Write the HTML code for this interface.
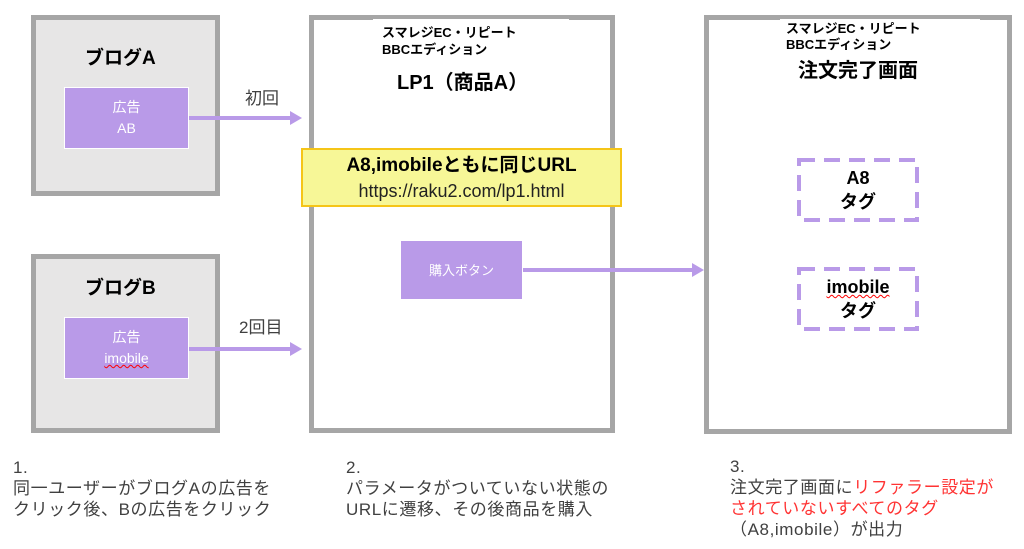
<!DOCTYPE html>
<html><head><meta charset="utf-8"><style>
body{margin:0;width:1024px;height:549px;background:#fff;position:relative;overflow:hidden;font-family:"Liberation Sans","Noto Sans CJK JP",sans-serif}
div,svg{position:absolute;box-sizing:border-box}
.box{border:5px solid #a6a6a6}
.ad{background:#b99ae8;border:1px solid #fff;color:#fff;text-align:center;font-size:14px;display:flex;flex-direction:column;justify-content:center;line-height:21px}
.line{height:4px;background:#b99ae8}
.ah{width:0;height:0;border-top:7px solid transparent;border-bottom:7px solid transparent;border-left:12px solid #b99ae8}
.t{color:#000;font-weight:bold;white-space:nowrap}
.cap{font-size:17px;line-height:21px;color:#404040;white-space:nowrap;letter-spacing:0.6px}
.tag{text-align:center;font-weight:bold;font-size:18px;line-height:24px;display:flex;flex-direction:column;justify-content:center}
</style></head><body>
<div class="box" style="left:31px;top:15px;width:189px;height:181px;background:#e7e6e6"></div>
<div class="t" style="left:85px;top:43px;font-size:19px">ブログA</div>
<div class="ad" style="left:64px;top:87px;width:125px;height:62px"><span>広告</span><span>AB</span></div>
<div class="box" style="left:31px;top:254px;width:189px;height:179px;background:#e7e6e6"></div>
<div class="t" style="left:85px;top:273px;font-size:19px">ブログB</div>
<div class="ad" style="left:64px;top:317px;width:125px;height:62px"><span>広告</span><span style="text-decoration:underline wavy red 1px">imobile</span></div>

<div class="line" style="left:189px;top:116px;width:102px"></div><div class="ah" style="left:290px;top:111px"></div>
<div class="line" style="left:189px;top:347px;width:102px"></div><div class="ah" style="left:290px;top:342px"></div>
<div style="left:245px;top:84px;font-size:17px;color:#404040">初回</div>
<div style="left:239px;top:313px;font-size:17px;color:#404040">2回目</div>

<div class="box" style="left:309px;top:15px;width:306px;height:418px"></div>
<div style="left:373px;top:19px;width:196px;height:40px;background:#fff"></div>
<div class="t" style="left:382px;top:24px;font-size:13px;line-height:17px">スマレジEC・リピート<br>BBCエディション</div>
<div class="t" style="left:397px;top:66px;font-size:20px">LP1（商品A）</div>
<div style="left:301px;top:148px;width:321px;height:59px;background:#f7f797;border:2px solid #f5c518;text-align:center;line-height:24px;padding-top:4px"><b style="font-size:19px">A8,imobileともに同じURL</b><br><span style="font-size:18px;color:#222">https://raku2.com/lp1.html</span></div>
<div class="ad" style="left:400px;top:240px;width:123px;height:60px;font-size:13px">購入ボタン</div>
<div class="line" style="left:523px;top:268px;width:170px"></div><div class="ah" style="left:692px;top:263px"></div>

<div class="box" style="left:704px;top:15px;width:308px;height:419px"></div>
<div style="left:780px;top:19px;width:200px;height:34px;background:#fff"></div>
<div class="t" style="left:786px;top:21px;font-size:13px;line-height:16px">スマレジEC・リピート<br>BBCエディション</div>
<div class="t" style="left:798px;top:54px;font-size:20px">注文完了画面</div>
<svg style="left:797px;top:158px" width="122" height="64"><rect x="2" y="2" width="118" height="60" fill="none" stroke="#b99ae8" stroke-width="4" stroke-dasharray="16,9"/></svg>
<svg style="left:797px;top:267px" width="122" height="64"><rect x="2" y="2" width="118" height="60" fill="none" stroke="#b99ae8" stroke-width="4" stroke-dasharray="16,9"/></svg>
<div class="tag" style="left:799px;top:160px;width:118px;height:60px"><span>A8</span><span>タグ</span></div>
<div class="tag" style="left:799px;top:269px;width:118px;height:60px"><span style="text-decoration:underline wavy red 1px">imobile</span><span>タグ</span></div>

<div class="cap" style="left:13px;top:457px">1.<br>同一ユーザーがブログAの広告を<br>クリック後、Bの広告をクリック</div>
<div class="cap" style="left:346px;top:457px">2.<br>パラメータがついていない状態の<br>URLに遷移、その後商品を購入</div>
<div class="cap" style="left:730px;top:456px">3.<br>注文完了画面に<span style="color:#ff3333">リファラー設定が</span><br><span style="color:#ff3333">されていないすべてのタグ</span><br>（A8,imobile）が出力</div>
</body></html>
